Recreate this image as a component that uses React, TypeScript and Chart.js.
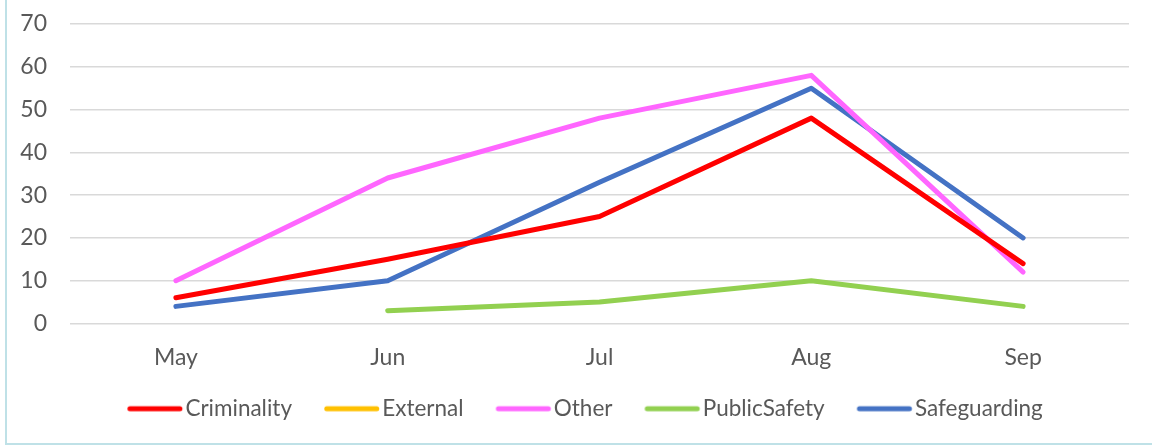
import React, { useEffect, useRef } from "react";
import { Chart, registerables } from "chart.js";

Chart.register(...registerables);

const months = ["May", "Jun", "Jul", "Aug", "Sep"];

const criminality = [6, 15, 25, 48, 14];
const external: (number | null)[] = [null, null, null, null, null];
const other = [10, 34, 48, 58, 12];
const publicSafety: (number | null)[] = [null, 3, 5, 10, 4];
const safeguarding = [4, 10, 33, 55, 20];

const yMin = 0;
const yMax = 70;
const yStep = 10;

const TEXT = "#595959";
const FONT = "Lato, 'Open Sans', sans-serif";
const LEGEND_BOX = 46;

// Legend swatch: a thick round-capped stroke, drawn slightly right of the
// legend box centre so it sits close to its label.
function swatch(color: string): HTMLCanvasElement {
  const c = document.createElement("canvas");
  c.width = 66;
  c.height = 8;
  const ctx = c.getContext("2d")!;
  ctx.strokeStyle = color;
  ctx.lineWidth = 5;
  ctx.lineCap = "round";
  ctx.beginPath();
  ctx.moveTo(11.75, 4);
  ctx.lineTo(61.75, 4);
  ctx.stroke();
  return c;
}

function series(label: string, data: (number | null)[], color: string) {
  return {
    label,
    data,
    borderColor: color,
    backgroundColor: color,
    borderWidth: 5,
    borderCapStyle: "round" as const,
    borderJoinStyle: "round" as const,
    pointRadius: 0,
    pointHoverRadius: 0,
    pointStyle: swatch(color),
    tension: 0,
    fill: false,
    spanGaps: false,
  };
}

// Nudge the legend row: narrow its box from the left so the row centres a
// little right of the canvas middle, and lift it closer to the axis labels.
const legendShift = {
  id: "legendShift",
  afterLayout(chart: any) {
    const legend = chart.legend;
    if (!legend) return;
    legend.left += 42;
    legend.top -= 7;
    legend.bottom -= 7;
  },
};

export default function App() {
  const canvasRef = useRef<HTMLCanvasElement | null>(null);

  useEffect(() => {
    if (!canvasRef.current) return;
    const chart = new Chart(canvasRef.current, {
      type: "line",
      data: {
        labels: months,
        datasets: [
          series("Criminality", criminality, "#FF0000"),
          series("External", external, "#FFC000"),
          series("Other", other, "#FF66FF"),
          series("PublicSafety", publicSafety, "#92D050"),
          series("Safeguarding", safeguarding, "#4472C4"),
        ],
      },
      plugins: [legendShift],
      options: {
        animation: false,
        responsive: true,
        maintainAspectRatio: false,
        layout: { padding: { top: 24, right: 23, bottom: 10, left: 0 } },
        plugins: {
          tooltip: { enabled: false },
          legend: {
            position: "bottom",
            labels: {
              color: TEXT,
              font: { family: FONT, size: 22.5 },
              usePointStyle: true,
              pointStyleWidth: LEGEND_BOX,
              padding: 33,
            },
          },
        },
        scales: {
          x: {
            offset: true,
            grid: { display: false, drawTicks: false },
            border: { display: false },
            ticks: {
              color: TEXT,
              font: { family: FONT, size: 23 },
              padding: 20,
              maxRotation: 0,
            },
            afterFit: (axis: any) => {
              axis.height = 48;
            },
          },
          y: {
            min: yMin,
            max: yMax,
            grid: { color: "#D9D9D9", lineWidth: 1.5, drawTicks: false },
            border: { display: false },
            ticks: {
              stepSize: yStep,
              color: TEXT,
              font: { family: FONT, size: 23 },
              padding: 23,
            },
            afterFit: (axis: any) => {
              axis.width = 70;
              axis.paddingTop = 0;
              axis.paddingBottom = 0;
            },
          },
        },
      },
    });
    return () => chart.destroy();
  }, []);

  return (
    <div
      style={{
        position: "fixed",
        left: 0,
        top: 0,
        width: 1152,
        height: 447,
        background: "#FFFFFF",
      }}
    >
      <div
        style={{
          position: "absolute",
          left: 5,
          top: 0,
          width: 1147,
          height: 445,
          borderLeft: "2px solid #BFE1E7",
          borderBottom: "2px solid #BFE1E7",
          boxSizing: "border-box",
        }}
      />
      <div style={{ position: "absolute", left: 0, top: 0, width: 1152, height: 447 }}>
        <canvas ref={canvasRef} />
      </div>
    </div>
  );
}
